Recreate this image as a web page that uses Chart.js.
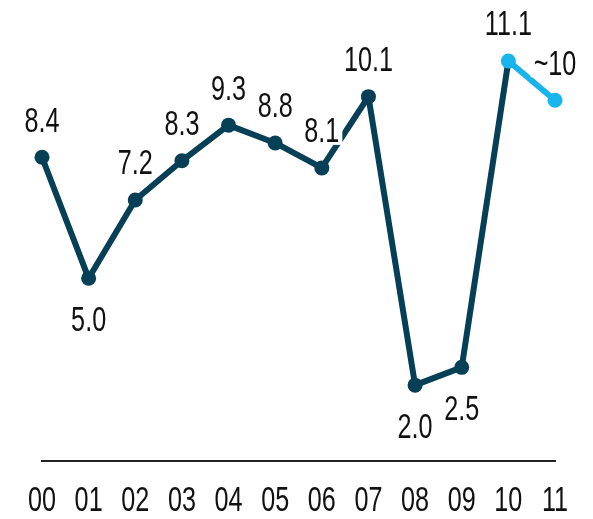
<!DOCTYPE html>
<html>
<head>
<meta charset="utf-8">
<script src="https://cdn.jsdelivr.net/npm/chart.js@4"></script>
<style>
  html, body { margin: 0; padding: 0; background: #fff; }
  #wrap { width: 593px; height: 519px; }
</style>
</head>
<body>
<div id="wrap"><canvas id="grafico"></canvas></div>
<script>
const anos = ["00", "01", "02", "03", "04", "05", "06", "07", "08", "09", "10", "11"];
const valores = [8.4, 5.0, 7.2, 8.3, 9.3, 8.8, 8.1, 10.1, 2.0, 2.5, 11.1, 10.0];
const rotulos = ["8.4", "5.0", "7.2", "8.3", "9.3", "8.8", "8.1", "10.1", "2.0", "2.5", "11.1", "~10"];
const rotuloAbaixo = [false, true, false, false, false, false, false, false, true, true, false, false];

const escuro = "#073f57";
const claro = "#18b4ec";
const fonte = "'Liberation Sans', Arial, sans-serif";

// texto condensado (fonte estreita do original)
function textoEstreito(ctx, txt, x, y, sy) {
    ctx.save();
    ctx.translate(x, y);
    ctx.scale(0.84, sy);
    ctx.fillText(txt, 0, 0);
    ctx.restore();
}

// rotulos com fundo branco (o 8.1 corta a linha no original)
const rotulosPlugin = {
    id: "rotulos",
    afterDatasetsDraw(chart) {
        const ctx = chart.ctx;
        const pontos = chart.getDatasetMeta(0).data;
        ctx.save();
        ctx.font = "30px " + fonte;
        ctx.textAlign = "center";
        ctx.textBaseline = "middle";
        pontos.forEach((p, i) => {
            const y = rotuloAbaixo[i] ? p.y + 42 : p.y - 36;
            const w = ctx.measureText(rotulos[i]).width * 0.84;
            ctx.fillStyle = "#fff";
            ctx.fillRect(p.x - w / 2 - 3, y - 13, w + 6, 26);
            ctx.fillStyle = "#111";
            textoEstreito(ctx, rotulos[i], p.x, y + 1, 1.14);
        });
        // anos no eixo x
        const xs = chart.scales.x;
        anos.forEach((a, i) => {
            textoEstreito(ctx, a, xs.getPixelForValue(i), chart.chartArea.bottom + 41, 1.14);
        });
        ctx.restore();
    }
};

new Chart(document.getElementById("grafico"), {
    type: "line",
    data: {
        labels: anos,
        datasets: [{
            data: valores,
            borderColor: escuro,
            borderWidth: 6,
            borderJoinStyle: "round",
            borderCapStyle: "round",
            pointRadius: 7.5,
            pointBorderWidth: 0,
            pointBackgroundColor: valores.map((v, i) => i >= 10 ? claro : escuro),
            segment: {
                borderColor: c => c.p0DataIndex >= 10 ? claro : escuro
            },
            tension: 0,
            clip: false
        }]
    },
    options: {
        responsive: true,
        maintainAspectRatio: false,
        animation: false,
        layout: { padding: { top: 29, left: 42, right: 38, bottom: 58 } },
        plugins: {
            legend: { display: false },
            tooltip: { enabled: false }
        },
        scales: {
            x: {
                offset: false,
                grid: { display: false, drawTicks: false },
                border: { display: true, color: "#222", width: 2 },
                ticks: { display: false }
            },
            y: {
                display: false,
                min: -0.13,
                max: 12
            }
        }
    },
    plugins: [rotulosPlugin]
});
</script>
</body>
</html>
